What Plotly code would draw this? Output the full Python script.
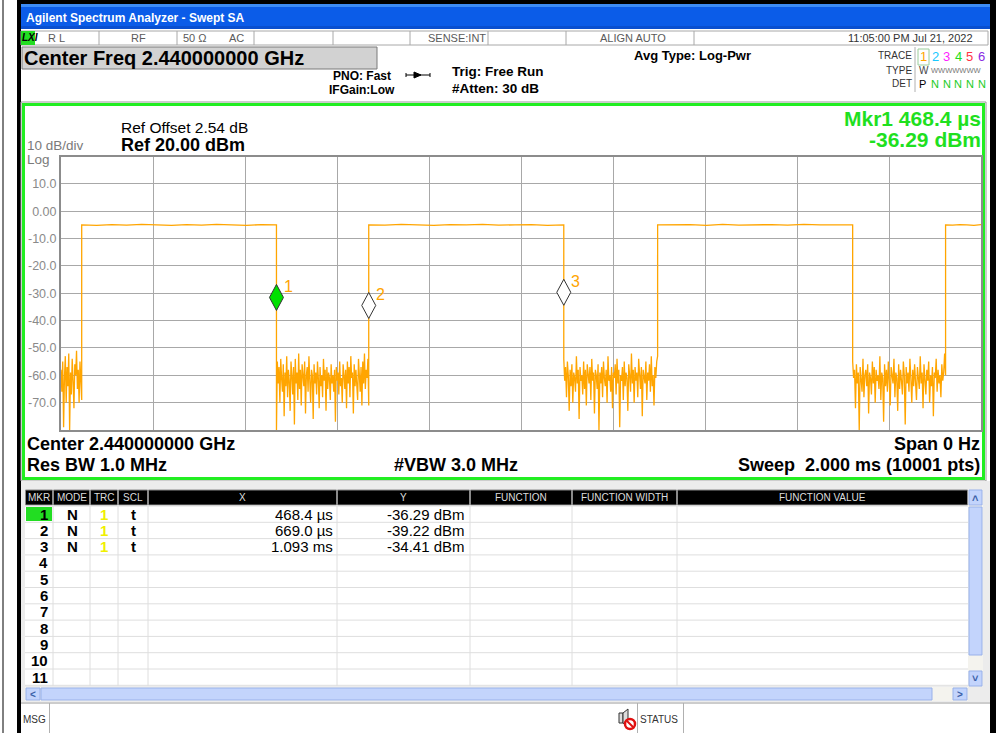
import numpy as np
import plotly.graph_objects as go

# ---------------- data ----------------
sweep_range_us = [0, 2000]
ref_level_dbm = 20
bottom_dbm = -80
# burst edges (µs): rise, fall, rise, fall, rise, fall, rise
edge_times_us = [45.0, 468.4, 669.0, 1093.0, 1297.0, 1721.0, 1923.0]

noise_b0 = [-58, -66, -55, -79, -61, -53, -70, -57, -64, -52, -80, -59, -67, -54,
            -62, -72, -56, -60, -51, -65, -58, -70, -55, -63, -69]
noise_b1 = [-80, -55, -63, -57, -70, -54, -61, -66, -56, -75, -59, -64, -53, -68, -58,
            -62, -73, -55, -60, -67, -57, -78, -54, -63, -59, -69, -52, -65, -58, -71,
            -56, -61, -64, -55, -74, -60, -57, -66, -53, -62, -70, -58, -60, -76, -56,
            -63, -59, -67, -55, -61, -72, -57, -64, -60, -68, -54, -62, -58, -73, -57,
            -65, -59, -61, -69, -56, -63, -60, -66, -58, -77, -57, -62, -59, -67, -55,
            -64, -61, -70, -56, -60, -65, -58, -72, -55, -63, -57, -68, -53, -61, -59,
            -74, -56, -64, -58, -62, -69, -54, -60, -66, -57, -71, -55, -63, -52, -65,
            -58, -61, -54, -71]
noise_b2 = [-54, -62, -57, -68, -55, -60, -73, -58, -64, -56, -70, -59, -61, -66, -53,
            -63, -58, -76, -57, -62, -60, -67, -55, -65, -58, -71, -56, -61, -63, -57,
            -69, -54, -62, -59, -74, -58, -60, -65, -56, -80, -59, -63, -57, -68, -55,
            -61, -64, -58, -70, -53, -62, -60, -66, -57, -72, -59, -61, -56, -67, -54,
            -63, -58, -79, -60, -62, -57, -69, -55, -64, -59, -61, -73, -56, -60, -66,
            -52, -63, -58, -70, -57, -62, -59, -68, -54, -61, -65, -57, -75, -58, -60,
            -63, -55, -69, -59, -62, -56, -66, -53, -64, -60, -71, -57, -61, -55, -53]
noise_b3 = [-55, -61, -58, -72, -56, -63, -59, -80, -57, -62, -66, -54, -68, -60, -58,
            -64, -56, -74, -59, -61, -67, -55, -63, -57, -70, -58, -62, -60, -65, -53,
            -69, -59, -61, -77, -56, -64, -58, -66, -55, -62, -71, -57, -60, -63, -54,
            -68, -59, -61, -73, -56, -65, -58, -62, -67, -55, -60, -78, -57, -63, -59,
            -66, -54, -61, -70, -58, -64, -56, -62, -69, -57, -60, -65, -53, -63, -59,
            -72, -56, -61, -67, -58, -62, -55, -70, -60, -64, -57, -75, -59, -61, -54,
            -66, -58, -63, -60, -68, -56, -62, -59, -52, -60]
high_b0 = [-5.0, -5.2, -4.9, -5.1, -4.8, -5.0, -5.2, -4.9, -5.1, -4.8, -5.0, -5.2, -4.9, -5.0]
high_b1 = [-5.0, -5.1, -4.8, -5.0, -5.2, -4.9, -5.0, -4.8, -5.1, -5.0, -4.9, -5.2, -5.0]
high_b2 = [-5.0, -5.0, -4.9, -5.2, -4.8, -5.1, -5.0, -4.9, -5.1, -4.8, -5.0, -5.1, -5.0]
high_b3 = [-5.0, -5.1, -4.9, -5.0, -5.2, -4.9]

marker_ids = ["1", "2", "3"]
marker_t_us = [468.4, 669.0, 1093.0]
marker_dbm = [-36.29, -39.22, -34.41]
marker_fill = ["#00e000", "white", "white"]

y_tick_vals = [10, 0, -10, -20, -30, -40, -50, -60, -70]
y_tick_text = ["10.0", "0.00", "-10.0", "-20.0", "-30.0", "-40.0", "-50.0", "-60.0", "-70.0"]

table_cols = ["MKR", "MODE", "TRC", "SCL", "X", "Y", "FUNCTION", "FUNCTION WIDTH", "FUNCTION VALUE"]
table_rows = 11

FONT = "Liberation Sans, Arial, sans-serif"
ORANGE = "#ffa500"
GREEN = "#22ee22"

W, H = 996, 733
def px(x): return x / W
def py(y): return 1 - y / H

shapes, ann = [], []

def rect(x0, y0, x1, y1, fill="rgba(0,0,0,0)", line=None, lw=0, layer="below"):
    shapes.append(dict(type="rect", xref="paper", yref="paper", x0=px(x0), x1=px(x1),
                       y0=py(y1), y1=py(y0), fillcolor=fill, layer=layer,
                       line=dict(color=line if line else "rgba(0,0,0,0)", width=lw)))

def hline(x0, x1, y, color, w=1, layer="below"):
    shapes.append(dict(type="line", xref="paper", yref="paper", x0=px(x0), x1=px(x1),
                       y0=py(y), y1=py(y), line=dict(color=color, width=w), layer=layer))

def vline(x, y0, y1, color, w=1, layer="below"):
    shapes.append(dict(type="line", xref="paper", yref="paper", x0=px(x), x1=px(x),
                       y0=py(y0), y1=py(y1), line=dict(color=color, width=w), layer=layer))

def txt(x, y, s, size, color="black", bold=False, anchor="left", family=FONT):
    ann.append(dict(xref="paper", yref="paper", x=px(x), y=py(y),
                    text=f"<b>{s}</b>" if bold else s, showarrow=False,
                    xanchor=anchor, yanchor="middle", borderpad=0,
                    font=dict(size=size, color=color, family=family)))

# ---------------- trace ----------------
segs = [(noise_b0, 0.0, edge_times_us[0]), (high_b0, edge_times_us[0], edge_times_us[1]),
        (noise_b1, edge_times_us[1], edge_times_us[2]), (high_b1, edge_times_us[2], edge_times_us[3]),
        (noise_b2, edge_times_us[3], edge_times_us[4]), (high_b2, edge_times_us[4], edge_times_us[5]),
        (noise_b3, edge_times_us[5], edge_times_us[6]), (high_b3, edge_times_us[6], float(sweep_range_us[1]))]
tx, ty = [], []
for vals, t0, t1 in segs:
    tx.extend(np.linspace(t0, t1, len(vals)).tolist())
    ty.extend(vals)

fig = go.Figure()
fig.add_trace(go.Scatter(x=tx, y=ty, mode="lines", line=dict(color=ORANGE, width=1.3),
                         hoverinfo="skip"))

# ---------------- window chrome ----------------
rect(0, 0, W, H, fill="white")
vline(3, 0, H, "black", 1)
rect(17, 0, 21, H, fill="black")
rect(17, 0, W, 4, fill="black")
rect(990, 0, W, H, fill="black")
# title bar
rect(21, 4, 990, 29, fill="#0b5ce8")
rect(21, 4, 990, 7, fill="#3d8cf5")
rect(21, 26, 990, 29, fill="#0a4fcf")
txt(25, 18, "Agilent Spectrum Analyzer - Swept SA", 12, "white", bold=True)

# status strip
rect(21, 31, 988, 45, fill="white", line="#a8a8a8", lw=1)
for sx in [99, 177, 254, 333, 410, 488, 566, 694]:
    vline(sx, 31, 45, "#a8a8a8")
rect(21, 31, 35, 45, fill="#22dd22")
txt(21, 38, "<i>LXI</i>", 10, "black", bold=True)
GR = "#5a5a5a"
txt(47, 38, "R L", 11, GR)
txt(138, 38, "RF", 11, GR, anchor="center")
txt(182, 38, "50 Ω", 11, GR)
txt(228, 38, "AC", 11, GR)
txt(487, 38, "SENSE:INT", 11, GR, anchor="right")
txt(633, 38, "ALIGN AUTO", 11, GR, anchor="center")
txt(974, 38, "11:05:00 PM Jul 21, 2022", 11, "#333333", anchor="right")

# center freq box
rect(22, 47, 377, 69, fill="#d2d2d2", line="#7a7a7a", lw=1)
txt(23, 58, "Center Freq 2.440000000 GHz", 20, "black", bold=True)
txt(362, 76, "PNO: Fast", 12, "black", bold=True, anchor="center")
txt(362, 90, "IFGain:Low", 12, "black", bold=True, anchor="center")
hline(406, 430, 75, "black", 1)
vline(406, 73, 77, "black"); vline(430, 73, 77, "black")
shapes.append(dict(type="path", xref="paper", yref="paper",
                   path=f"M{px(414)},{py(72)} L{px(421)},{py(75)} L{px(414)},{py(78)} Z",
                   fillcolor="black", line=dict(color="black", width=1)))
txt(451, 72, "Trig: Free Run", 13.5, "black", bold=True)
txt(451, 88, "#Atten: 30 dB", 13.5, "black", bold=True)
txt(633, 55, "Avg Type: Log-Pwr", 13, "black", bold=True)

# trace box
txt(913, 55, "TRACE", 10, "#333333", anchor="right")
txt(913, 70, "TYPE", 10, "#333333", anchor="right")
txt(913, 84, "DET", 10, "#333333", anchor="right")
vline(915, 47, 92, "#b0b0b0")
rect(918, 49, 929, 65, line="#9acd9a", lw=1)
for i, (c, col) in enumerate(zip("123456", ["#ffa500", "#19c8ff", "#ff22ff", "#22dd22", "#ff3344", "#8a2be2"])):
    txt(923.5 + i * 11.6, 57, c, 13, col, anchor="center")
txt(918, 71, "W", 10, "#444444")
txt(930, 71, "WWWWWWW", 7.5, "#777777")
txt(918, 84, "P", 11, "black")
for i in range(5):
    txt(935 + i * 11.7, 84, "N", 11, "#22cc22", anchor="center")

# ---------------- graph panel ----------------
rect(21, 102, 986, 481, line="#9a9a9a", lw=1)
rect(23.5, 104.5, 983.5, 478.5, line=GREEN, lw=3)
txt(120, 127, "Ref Offset 2.54 dB", 15.5, "black")
txt(120, 145, "Ref 20.00 dBm", 18, "black", bold=True)
txt(26, 145.5, "10 dB/div", 13.5, "#7a7a7a")
txt(26, 160, "Log", 13.5, "#7a7a7a")
txt(982, 118, "Mkr1 468.4 µs", 21, "#1fe01f", bold=True, anchor="right")
txt(982, 139, "-36.29 dBm", 21, "#1fe01f", bold=True, anchor="right")
txt(26, 444, "Center 2.440000000 GHz", 18, "black", bold=True)
txt(981, 444, "Span 0 Hz", 18, "black", bold=True, anchor="right")
txt(26, 465, "Res BW 1.0 MHz", 18, "black", bold=True)
txt(456, 465, "#VBW 3.0 MHz", 18, "black", bold=True, anchor="center")
txt(981, 465, "Sweep\u00a0\u00a02.000 ms (10001 pts)", 18, "black", bold=True, anchor="right")

# markers (diamonds anchored on marker data points)
for mid, t, v, f in zip(marker_ids, marker_t_us, marker_dbm, marker_fill):
    shapes.append(dict(type="path", xref="x", yref="y", xsizemode="pixel", ysizemode="pixel",
                       xanchor=t, yanchor=v, path="M0,0 L-7,13 L0,26 L7,13 Z",
                       fillcolor=f, line=dict(color="#333333", width=1), layer="above"))
    ann.append(dict(xref="x", yref="y", x=t, y=v, text=mid, showarrow=False,
                    xshift=12, yshift=24, font=dict(size=16, color=ORANGE, family=FONT)))

# ---------------- marker table ----------------
rect(21, 481, 990, 702, fill="#ececec")
rect(25, 490, 968, 686, fill="white")
col_edges = [25, 53, 90, 118, 148, 337, 470, 572, 677, 968]
for i, name in enumerate(table_cols):
    rect(col_edges[i] + 0.5, 490, col_edges[i + 1] - 0.5, 505, fill="black", line="#8a8a8a", lw=1)
    txt((col_edges[i] + col_edges[i + 1]) / 2, 497.5, name, 10, "#dddddd", anchor="center")
row_h = 16.3
for k in range(table_rows + 1):
    hline(25, 968, 506 + row_h * k, "#dedede")
for cx in col_edges[1:-1]:
    vline(cx, 505, 686, "#dedede")
rect(26, 507, 52, 521, fill="#22dd22")


def fmt_time(us):
    return f"{us:.1f} µs" if us < 1000 else f"{us / 1000:.3f} ms"


for k in range(table_rows):
    yc = 514 + row_h * k
    txt(49, yc, str(k + 1), 15, "black", bold=True, anchor="right")
    if k < len(marker_ids):
        txt(72, yc, "N", 15, "black", bold=True, anchor="center")
        txt(104, yc, "1", 15, "#f0f000", bold=True, anchor="center")
        txt(133, yc, "t", 15, "black", bold=True, anchor="center")
        txt(334, yc, fmt_time(marker_t_us[k]), 15, "black", anchor="right")
        txt(466, yc, f"{marker_dbm[k]:.2f} dBm", 15, "black", anchor="right")

# scrollbars
SB, SBL = "#c3d4fc", "#98b1ea"
rect(968, 490, 983, 686, fill="#f4f3ee")
rect(969, 490, 982, 505, fill=SB, line=SBL, lw=1)
rect(969, 507, 982, 655, fill=SB, line=SBL, lw=1)
rect(969, 671, 982, 686, fill=SB, line=SBL, lw=1)
txt(975.5, 498, "˄", 11, "#3a5fa8", bold=True, anchor="center")
txt(975.5, 678, "˅", 11, "#3a5fa8", bold=True, anchor="center")
rect(25, 687, 968, 701, fill="#f4f3ee")
rect(26, 688, 40, 700, fill=SB, line=SBL, lw=1)
rect(41, 688, 932, 700, fill=SB, line=SBL, lw=1)
rect(953, 688, 967, 700, fill=SB, line=SBL, lw=1)
txt(33, 694, "<", 10, "#3a5fa8", bold=True, anchor="center")
txt(960, 694, ">", 10, "#3a5fa8", bold=True, anchor="center")

# message bar
rect(21, 703, 990, H, fill="white")
hline(21, 990, 703, "#9a9a9a")
txt(22, 719, "MSG", 10, "#333333")
vline(49.5, 703, H, "#b0b0b0")
vline(637.5, 703, H, "#b0b0b0")
vline(683.5, 703, H, "#b0b0b0")
rect(619, 713, 623, 723, fill="#dddddd", line="#333333", lw=1)
shapes.append(dict(type="path", xref="paper", yref="paper",
                   path=f"M{px(623)},{py(713)} L{px(628)},{py(709)} L{px(628)},{py(727)} L{px(623)},{py(723)} Z",
                   fillcolor="#dddddd", line=dict(color="#333333", width=1)))
shapes.append(dict(type="circle", xref="paper", yref="paper", x0=px(625), x1=px(635),
                   y0=py(729), y1=py(719), fillcolor="white", line=dict(color="#e01010", width=2.5)))
shapes.append(dict(type="line", xref="paper", yref="paper", x0=px(627), x1=px(633),
                   y0=py(721), y1=py(727), line=dict(color="#e01010", width=2)))
txt(639, 719, "STATUS", 10, "#333333")

fig.update_layout(
    width=W, height=H, autosize=False, margin=dict(l=0, r=0, t=0, b=0),
    paper_bgcolor="white", plot_bgcolor="white", showlegend=False,
    font=dict(family=FONT),
    xaxis=dict(domain=[px(61), px(981)], range=sweep_range_us, dtick=200, tick0=0,
               showticklabels=False, ticks="", showgrid=True, gridcolor="#a8a8a8", gridwidth=1,
               showline=True, linecolor="#8c8c8c", linewidth=2, mirror=True, zeroline=False,
               fixedrange=True),
    yaxis=dict(domain=[py(430), py(156.5)], range=[bottom_dbm, ref_level_dbm],
               tickvals=y_tick_vals, ticktext=y_tick_text, ticks="",
               tickfont=dict(size=12.5, color="#8a8a8a", family=FONT),
               showgrid=True, gridcolor="#a8a8a8", gridwidth=1,
               showline=True, linecolor="#8c8c8c", linewidth=2, mirror=True, zeroline=False,
               fixedrange=True),
    shapes=shapes, annotations=ann,
)
fig.write_html("out.html", config={"displayModeBar": False},
               post_script="document.body.style.margin='0';document.body.style.padding='0';"
                           "document.body.style.overflow='hidden';")
